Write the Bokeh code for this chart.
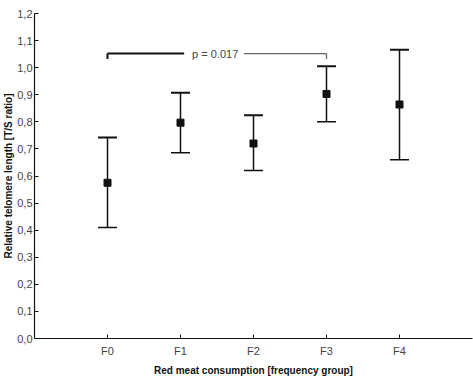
from bokeh.plotting import figure
from bokeh.models import FixedTicker, Range1d, ColumnDataSource
from bokeh.embed import file_html
from bokeh.resources import INLINE
from bokeh.core.properties import value

groups = ["F0", "F1", "F2", "F3", "F4"]
means = [0.575, 0.797, 0.720, 0.903, 0.864]
lower = [0.410, 0.686, 0.620, 0.800, 0.660]
upper = [0.742, 0.907, 0.824, 1.005, 1.066]
y_ticks = [0.0, 0.1, 0.2, 0.3, 0.4, 0.5, 0.6, 0.7, 0.8, 0.9, 1.0, 1.1, 1.2]
y_tick_labels = ["0,0", "0,1", "0,2", "0,3", "0,4", "0,5", "0,6", "0,7", "0,8", "0,9", "1,0", "1,1", "1,2"]
bracket_groups = ["F0", "F3"]
bracket_y = 1.052
p_label = "p = 0.017"

FONT = "Liberation Sans"
xs = list(range(len(groups)))

p = figure(width=473, height=383, output_backend="svg", toolbar_location=None,
           x_range=Range1d(-1, 5), y_range=Range1d(0, 1.2),
           min_border_left=30, min_border_right=1, min_border_top=13, min_border_bottom=45)
p.outline_line_color = None
p.grid.visible = False
p.background_fill_color = "white"

# axes
p.xaxis.ticker = FixedTicker(ticks=xs)
p.xaxis.major_label_overrides = {i: g for i, g in zip(xs, groups)}
p.yaxis.ticker = FixedTicker(ticks=y_ticks)
p.yaxis.major_label_overrides = {t: l for t, l in zip(y_ticks, y_tick_labels)}
for ax in (p.xaxis, p.yaxis):
    ax.major_tick_in = 4
    ax.major_tick_out = 0
    ax.minor_tick_line_color = None
    ax.axis_line_width = 1.2
    ax.axis_line_color = "#111111"
    ax.major_tick_line_color = "#111111"
    ax.major_label_text_font = FONT
    ax.major_label_text_font_size = "11px"
    ax.major_label_text_color = "#444444"
    ax.axis_label_text_font = FONT
    ax.axis_label_text_font_size = "10px"
    ax.axis_label_text_font_style = "bold"
    ax.axis_label_text_color = "#111111"
p.xaxis.axis_label = "Red meat consumption [frequency group]"
p.yaxis.axis_label = "Relative telomere length [T/S ratio]"
p.xaxis.major_label_standoff = 6
p.xaxis.axis_label_standoff = 5
p.yaxis.major_label_standoff = 2
p.yaxis.axis_label_standoff = 0

# error bars
cap = 0.13
src = ColumnDataSource(dict(x=xs, m=means, lo=lower, hi=upper,
                            xl=[x - cap for x in xs], xr=[x + cap for x in xs]))
p.segment(x0="x", y0="lo", x1="x", y1="hi", source=src, line_color="#111111", line_width=1.5)
p.segment(x0="xl", y0="hi", x1="xr", y1="hi", source=src, line_color="#111111", line_width=2)
p.segment(x0="xl", y0="lo", x1="xr", y1="lo", source=src, line_color="#111111", line_width=1.5)
p.scatter(x="x", y="m", source=src, marker="square", size=7, fill_color="#111111", line_color="#111111")

# significance bracket
bx0 = groups.index(bracket_groups[0])
bx1 = groups.index(bracket_groups[1])
mid = (bx0 + bx1) / 2
tick_len = 0.02
gap_l = 0.45
gap_r = 0.37
p.segment(x0=[bx0, bx0], y0=[bracket_y, bracket_y], x1=[mid - gap_l, bx0],
          y1=[bracket_y, bracket_y - tick_len], line_color="#111111", line_width=2)
p.segment(x0=[mid + gap_r, bx1], y0=[bracket_y, bracket_y], x1=[bx1, bx1],
          y1=[bracket_y, bracket_y - tick_len], line_color="#666666", line_width=1.3)
p.text(x=[mid - 0.025], y=[bracket_y], text=[p_label], text_font=value(FONT),
       text_font_size="11px", text_color="#444444", text_align="center", text_baseline="middle")

open("out.html", "w").write(file_html(p, INLINE))
